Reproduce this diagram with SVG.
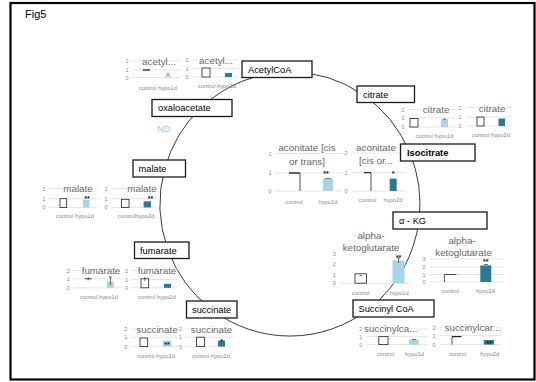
<svg xmlns="http://www.w3.org/2000/svg" width="536" height="382" viewBox="0 0 536 382">
<style>
text{font-family:"Liberation Sans",Arial,sans-serif}
.box{fill:#fff;stroke:#1a1a1a;stroke-width:1.3}
.lbl{font-size:9.3px;fill:#000}
.conn{fill:none;stroke:#3a3a3a;stroke-width:1}
.tt{font-size:9.8px;fill:#666;text-anchor:middle;paint-order:stroke;stroke:#fff;stroke-width:2.5px}
.ax{font-size:5.5px;fill:#888;text-anchor:middle}
.cat{font-size:5.8px;fill:#888;text-anchor:middle}
.g{stroke:#d9d9d9;stroke-width:0.7}
.c{fill:#fff;stroke:#222;stroke-width:0.8}
.cp{fill:none;stroke:#222;stroke-width:0.8}
.h1{fill:#a8d5e5}
.h2{fill:#2b7b95}
.s{font-size:7px;font-weight:bold;fill:#222;text-anchor:middle}
.e{stroke:#333;stroke-width:0.7}
</style>
<rect x="0" y="0" width="536" height="382" fill="#fff"/>
<rect x="10.5" y="3" width="524" height="376.5" fill="none" stroke="#000" stroke-width="2.2"/>
<text x="25" y="18" font-size="11" fill="#000">Fig5</text>

<g id="connectors">
<path class="conn" d="M290,72 A130,132 0 0,1 361.9,94"/>
<path class="conn" d="M361.9,94 A130,132 0 0,1 409.5,152"/>
<path class="conn" d="M409.5,152 A130,132 0 0,1 419,220"/>
<path class="conn" d="M419,220 A130,132 0 0,1 370,308"/>
<path class="conn" d="M370,308 A130,132 0 0,1 211,309"/>
<path class="conn" d="M211,309 A130,132 0 0,1 168,250"/>
<path class="conn" d="M168,250 A130,132 0 0,1 165,168"/>
<path class="conn" d="M165,168 A130,132 0 0,1 200.8,108"/>
<path class="conn" d="M200.8,108 A130,132 0 0,1 290,72"/>
</g>

<g id="chart-acetyl-1d">
<line class="g" x1="132" y1="61" x2="181" y2="61"/><line class="g" x1="132" y1="70" x2="181" y2="70"/><line class="g" x1="132" y1="77.5" x2="181" y2="77.5"/>
<text class="ax" x="127" y="63">2</text><text class="ax" x="127" y="72">1</text><text class="ax" x="127" y="79.5">0</text>
<text class="tt" x="159" y="64.5">acetyl...</text>
<line x1="143" y1="70" x2="150" y2="70" stroke="#222" stroke-width="1.3"/>
<rect class="h1" x="165.5" y="74.5" width="5" height="3"/><line class="e" x1="168" y1="72.5" x2="168" y2="75"/>
<text class="cat" x="158" y="89.5">control hypo1d</text>
</g>
<g id="chart-acetyl-2d">
<line class="g" x1="193" y1="60" x2="238" y2="60"/><line class="g" x1="193" y1="68.5" x2="238" y2="68.5"/><line class="g" x1="193" y1="77" x2="238" y2="77"/>
<text class="ax" x="187" y="62">2</text><text class="ax" x="187" y="70.5">1</text><text class="ax" x="187" y="79">0</text>
<text class="tt" x="216" y="63.5">acetyl...</text>
<rect class="c" x="202" y="68" width="8" height="9"/>
<rect class="h2" x="225" y="73" width="7" height="4"/>
<text class="cat" x="217" y="88">control hypo2d</text>
</g>
<g id="chart-citrate-1d">
<line class="g" x1="408" y1="109.5" x2="458" y2="109.5"/><line class="g" x1="408" y1="118" x2="458" y2="118"/><line class="g" x1="408" y1="127" x2="458" y2="127"/>
<text class="ax" x="403" y="111.5">2</text><text class="ax" x="403" y="120">1</text><text class="ax" x="403" y="129">0</text>
<text class="tt" x="436" y="113">citrate</text>
<rect class="c" x="410" y="118.5" width="8" height="8.5"/>
<rect class="h1" x="441" y="119" width="7" height="8"/><line class="e" x1="443" y1="119" x2="446" y2="119"/>
<text class="cat" x="434.5" y="138">control hypo1d</text>
</g>
<g id="chart-citrate-2d">
<line class="g" x1="466" y1="107.5" x2="512" y2="107.5"/><line class="g" x1="466" y1="117" x2="512" y2="117"/><line class="g" x1="466" y1="126" x2="512" y2="126"/>
<text class="ax" x="460" y="109.5">2</text><text class="ax" x="460" y="119">1</text><text class="ax" x="460" y="128">0</text>
<text class="tt" x="492" y="112">citrate</text>
<rect class="c" x="477" y="117" width="7" height="9"/>
<rect class="h2" x="498.5" y="118.5" width="6.5" height="7.5"/>
<text class="cat" x="491" y="137">control hypo2d</text>
</g>
<g id="chart-aconitate-1d">
<line class="g" x1="274" y1="153.5" x2="343" y2="153.5"/><line class="g" x1="274" y1="173" x2="343" y2="173"/><line class="g" x1="274" y1="191" x2="343" y2="191"/>
<text class="ax" x="270" y="156">2</text><text class="ax" x="270" y="175">1</text><text class="ax" x="270" y="193">0</text>
<text class="tt" x="307" y="151">aconitate [cis</text>
<text class="tt" x="307" y="164.5">or trans]</text>
<path class="cp" d="M300,191 V173"/><line x1="289" y1="173" x2="300" y2="173" stroke="#222" stroke-width="1.4"/>
<rect class="h1" x="323" y="179" width="10" height="12"/><line class="e" x1="325" y1="178.5" x2="331" y2="178.5"/>
<text class="s" x="326" y="176">**</text>
<text class="cat" x="294" y="203.5">control</text><text class="cat" x="328" y="203.5">hypo1d</text>
</g>
<g id="chart-aconitate-2d">
<line class="g" x1="351" y1="153" x2="405" y2="153"/><line class="g" x1="351" y1="172.6" x2="405" y2="172.6"/><line class="g" x1="351" y1="191" x2="405" y2="191"/>
<text class="ax" x="346" y="155">2</text><text class="ax" x="346" y="174.6">1</text><text class="ax" x="346" y="193">0</text>
<text class="tt" x="376" y="150.5">aconitate</text>
<text class="tt" x="376" y="164">[cis or...</text>
<path class="cp" d="M371,191 V172.6"/><line x1="364" y1="172.6" x2="371" y2="172.6" stroke="#222" stroke-width="1.2"/>
<rect class="h2" x="389.7" y="178.6" width="7" height="12.4"/>
<text class="s" x="393" y="176">*</text>
<text class="cat" x="367.5" y="202.3">control</text><text class="cat" x="393" y="202.3">hypo2d</text>
</g>
<g id="chart-malate-1d">
<line class="g" x1="49" y1="188.6" x2="97" y2="188.6"/><line class="g" x1="49" y1="198.7" x2="97" y2="198.7"/><line class="g" x1="49" y1="207.4" x2="97" y2="207.4"/>
<text class="ax" x="44" y="190.6">2</text><text class="ax" x="44" y="200.7">1</text><text class="ax" x="44" y="209.4">0</text>
<text class="tt" x="78" y="192">malate</text>
<rect class="c" x="60" y="198.7" width="6.7" height="8.7"/>
<rect class="h1" x="83" y="199.7" width="6.6" height="7.7"/>
<text class="s" x="87" y="201">**</text>
<text class="cat" x="75" y="218.4">control hypo1d</text>
</g>
<g id="chart-malate-2d">
<line class="g" x1="111" y1="188.6" x2="158" y2="188.6"/><line class="g" x1="111" y1="198.7" x2="158" y2="198.7"/><line class="g" x1="111" y1="207.4" x2="158" y2="207.4"/>
<text class="ax" x="106" y="190.6">2</text><text class="ax" x="106" y="200.7">1</text><text class="ax" x="106" y="209.4">0</text>
<text class="tt" x="142" y="192">malate</text>
<rect class="c" x="121.4" y="199.3" width="7.6" height="8.1"/>
<rect class="h2" x="143.6" y="201.3" width="7.4" height="6.1"/>
<text class="s" x="150.4" y="201">**</text>
<text class="cat" x="136" y="218.4">controlhypo2d</text>
</g>
<g id="chart-fumarate-1d">
<line class="g" x1="73" y1="270.5" x2="121" y2="270.5"/><line class="g" x1="73" y1="278.8" x2="121" y2="278.8"/><line class="g" x1="73" y1="287.8" x2="121" y2="287.8"/>
<text class="ax" x="68.4" y="272.5">2</text><text class="ax" x="68.4" y="280.8">1</text><text class="ax" x="68.4" y="289.8">0</text>
<text class="tt" x="101" y="273.5">fumarate</text>
<line x1="84.8" y1="278.8" x2="91.6" y2="278.8" stroke="#444" stroke-width="1"/><line class="e" x1="88.2" y1="277" x2="88.2" y2="280.5"/>
<rect class="h1" x="107" y="281.5" width="6.8" height="6.3"/><line class="e" x1="110.4" y1="277" x2="110.4" y2="285"/><line class="e" x1="109" y1="277" x2="111.8" y2="277"/>
<text class="cat" x="99" y="298.5">control hypo1d</text>
</g>
<g id="chart-fumarate-2d">
<line class="g" x1="131" y1="270.5" x2="177" y2="270.5"/><line class="g" x1="131" y1="279.5" x2="177" y2="279.5"/><line class="g" x1="131" y1="287.8" x2="177" y2="287.8"/>
<text class="ax" x="126.5" y="272.5">2</text><text class="ax" x="126.5" y="281.5">1</text><text class="ax" x="126.5" y="289.8">0</text>
<text class="tt" x="157" y="274">fumarate</text>
<rect class="c" x="141" y="278.8" width="7.7" height="9"/><line class="e" x1="144.8" y1="277" x2="144.8" y2="281"/>
<rect class="h2" x="164" y="283.8" width="7" height="4"/>
<text class="cat" x="156.8" y="298.5">control hypo2d</text>
</g>
<g id="chart-succinate-1d">
<line class="g" x1="131" y1="328.9" x2="178" y2="328.9"/><line class="g" x1="131" y1="337.2" x2="178" y2="337.2"/><line class="g" x1="131" y1="346.6" x2="178" y2="346.6"/>
<text class="ax" x="125.8" y="330.9">2</text><text class="ax" x="125.8" y="339.2">1</text><text class="ax" x="125.8" y="348.6">0</text>
<text class="tt" x="157" y="332.5">succinate</text>
<rect class="c" x="140" y="338" width="7.7" height="8.6"/>
<rect class="h1" x="163" y="340.6" width="8" height="6"/>
<text class="s" x="167" y="346.5">**</text>
<text class="cat" x="156" y="357.6">control hypo1d</text>
</g>
<g id="chart-succinate-2d">
<line class="g" x1="185" y1="328.9" x2="233" y2="328.9"/><line class="g" x1="185" y1="337.2" x2="233" y2="337.2"/><line class="g" x1="185" y1="346.6" x2="233" y2="346.6"/>
<text class="ax" x="180.5" y="330.9">2</text><text class="ax" x="180.5" y="339.2">1</text><text class="ax" x="180.5" y="348.6">0</text>
<text class="tt" x="211.5" y="332.5">succinate</text>
<rect class="c" x="196.6" y="337.2" width="7.8" height="9.4"/>
<rect class="h2" x="218" y="340.6" width="7" height="6"/>
<text class="s" x="221.5" y="344">*</text>
<text class="cat" x="211" y="357.6">control hypo2d</text>
</g>
<g id="chart-akg-1d">
<line class="g" x1="339" y1="283.2" x2="410" y2="283.2"/>
<text class="ax" x="334.4" y="255.8">3</text><text class="ax" x="334.4" y="265.8">2</text><text class="ax" x="334.4" y="276.5">1</text><text class="ax" x="334.4" y="285.2">0</text>
<text class="tt" x="371" y="238.5">alpha-</text>
<text class="tt" x="371" y="251">ketoglutarate</text>
<rect class="c" x="355" y="273.8" width="11.5" height="9.4"/><line class="e" x1="359.5" y1="275.5" x2="362" y2="275.5"/>
<rect class="h1" x="392.5" y="260.4" width="12" height="22.8"/><line class="e" x1="398.5" y1="258" x2="398.5" y2="263"/><line class="e" x1="397" y1="258" x2="400" y2="258"/>
<text class="s" x="398.5" y="259.5" font-size="6">**</text>
<text class="cat" x="360.7" y="294.8">control</text><text class="cat" x="399.3" y="294.8">hypo1d</text>
</g>
<g id="chart-akg-2d">
<line class="g" x1="430" y1="258.8" x2="504" y2="258.8"/><line class="g" x1="430" y1="267" x2="504" y2="267"/><line class="g" x1="430" y1="274.5" x2="504" y2="274.5"/><line class="g" x1="430" y1="282" x2="504" y2="282"/>
<text class="ax" x="424" y="260.8">3</text><text class="ax" x="424" y="269">2</text><text class="ax" x="424" y="276.5">1</text><text class="ax" x="424" y="284">0</text>
<text class="tt" x="462" y="243.5">alpha-</text>
<text class="tt" x="463.6" y="256">ketoglutarate</text>
<path class="cp" d="M444.4,282 V274.5 H456.4"/>
<rect class="h2" x="480.3" y="265.4" width="11" height="16.6"/><line class="e" x1="484" y1="264.5" x2="488" y2="264.5"/>
<text class="s" x="485.8" y="263.5" font-size="6">**</text>
<text class="cat" x="450" y="292.5">control</text><text class="cat" x="485.4" y="292.5">hypo2d</text>
</g>
<g id="chart-succinylcarnitine-1d">
<line class="g" x1="366" y1="328.9" x2="428" y2="328.9"/><line class="g" x1="366" y1="336.6" x2="428" y2="336.6"/><line class="g" x1="366" y1="344.6" x2="428" y2="344.6"/>
<text class="ax" x="360.7" y="330.9">2</text><text class="ax" x="360.7" y="338.6">1</text><text class="ax" x="360.7" y="346.6">0</text>
<text class="tt" x="390.7" y="331.5">succinylca...</text>
<rect class="c" x="378.8" y="336.6" width="9.2" height="8"/>
<rect class="h1" x="409" y="339.6" width="9.8" height="5"/><line class="e" x1="412" y1="339.6" x2="416" y2="339.6"/>
<text class="cat" x="385.5" y="356">control</text><text class="cat" x="414.5" y="356">hypo1d</text>
</g>
<g id="chart-succinylcarnitine-2d">
<line class="g" x1="440" y1="327.9" x2="502" y2="327.9"/><line class="g" x1="440" y1="335.6" x2="502" y2="335.6"/><line class="g" x1="440" y1="344.6" x2="502" y2="344.6"/>
<text class="ax" x="434" y="329.9">2</text><text class="ax" x="434" y="337.6">1</text><text class="ax" x="434" y="346.6">0</text>
<text class="tt" x="472.6" y="331">succinylcar...</text>
<path class="cp" d="M452,344.6 V336.6"/><line x1="452" y1="336.6" x2="461.5" y2="336.6" stroke="#222" stroke-width="1.2"/>
<rect class="h2" x="483.8" y="340" width="10.2" height="4.6"/>
<text class="s" x="489" y="345.5">**</text>
<text class="cat" x="457.6" y="356">control</text><text class="cat" x="489.8" y="356">hypo2d</text>
</g>

<text x="163.8" y="131.5" font-size="9" fill="#9dc3e6" text-anchor="middle">ND</text>

<g id="node-acetylcoa"><rect class="box" x="242" y="61" width="70" height="16.5"/><text class="lbl" x="248" y="72.5">AcetylCoA</text></g>
<g id="node-citrate"><rect class="box" x="357" y="86" width="57.5" height="16.5"/><text class="lbl" x="363" y="97.5">citrate</text></g>
<g id="node-isocitrate"><rect class="box" x="400.5" y="144" width="74.5" height="17"/><text class="lbl" x="407" y="155.5" font-size="8.6" font-weight="bold">Isocitrate</text></g>
<g id="node-akg"><rect class="box" x="393" y="212" width="94" height="17"/><text class="lbl" x="399" y="223.5">α - KG</text></g>
<g id="node-succinylcoa"><rect class="box" x="353" y="300" width="81" height="17"/><text class="lbl" x="358.5" y="311.5">Succinyl CoA</text></g>
<g id="node-succinate"><rect class="box" x="186.5" y="301" width="50.5" height="17"/><text class="lbl" x="192" y="312.5">succinate</text></g>
<g id="node-fumarate"><rect class="box" x="134.5" y="242" width="54.5" height="16.5"/><text class="lbl" x="140" y="253.5">fumarate</text></g>
<g id="node-malate"><rect class="box" x="133" y="160" width="52.5" height="17"/><text class="lbl" x="138.5" y="171.5">malate</text></g>
<g id="node-oxaloacetate"><rect class="box" x="152" y="99.5" width="80" height="17"/><text class="lbl" x="158" y="111">oxaloacetate</text></g>
</svg>
